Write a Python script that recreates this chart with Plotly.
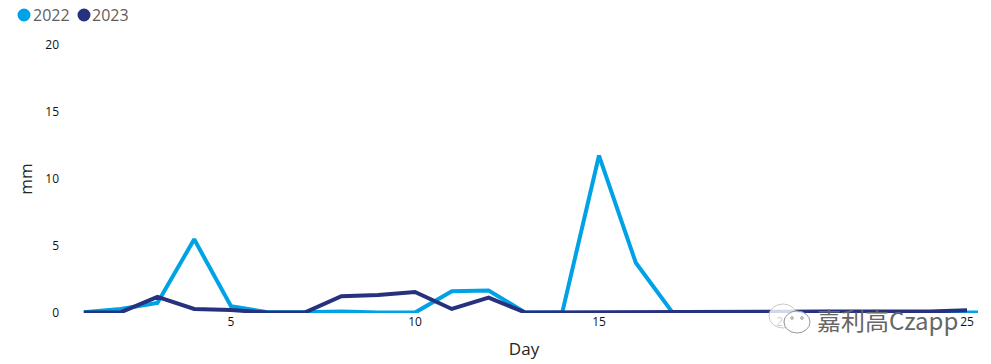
import plotly.graph_objects as go

days = list(range(1, 27))
days_2023 = list(range(1, 26))
series_names = ["2022", "2023"]
colors = ["#00A2E6", "#27327F"]
values_2022 = [0.05, 0.3, 0.75, 5.5, 0.5, 0.05, 0.05, 0.12, 0.03, 0.03, 1.62, 1.68, 0.03,
               0.03, 11.75, 3.75, 0.03, 0.03, 0.03, 0.03, 0.03, 0.03, 0.03, 0.03, 0.03, 0.03]
values_2023 = [0.03, 0.05, 1.2, 0.3, 0.22, 0.03, 0.03, 1.25, 1.35, 1.57, 0.3, 1.15, 0.03,
               0.03, 0.03, 0.03, 0.03, 0.03, 0.1, 0.1, 0.12, 0.12, 0.1, 0.12, 0.2]
x_ticks = [5, 10, 15, 20, 25]
y_ticks = [0, 5, 10, 15, 20]

W, H = 991, 364
L, R, T, B = 70, 13, 45, 51
PW, PH = W - L - R, H - T - B
FONT = "Open Sans, Noto Sans, sans-serif"

fig = go.Figure()
for name, xs, ys, c in [(series_names[0], days, values_2022, colors[0]),
                        (series_names[1], days_2023, values_2023, colors[1])]:
    fig.add_trace(go.Scatter(x=xs, y=ys, name=name, mode="lines",
                             line=dict(color=c, width=4), showlegend=False))


def pxx(v):
    return (v - L) / PW


def pyy(v):
    return (H - B - v) / PH


def circle(cx, cy, rx, ry, fill, line):
    return dict(type="circle", xref="paper", yref="paper", layer="above",
                x0=pxx(cx - rx), x1=pxx(cx + rx), y0=pyy(cy + ry), y1=pyy(cy - ry),
                fillcolor=fill, line=line)


shapes = []
annotations = []
for cx, tx, name, c in [(24, 31, series_names[0], colors[0]), (84, 90, series_names[1], colors[1])]:
    shapes.append(circle(cx, 15, 6.5, 6.5, c, dict(width=0)))
    annotations.append(dict(xref="paper", yref="paper", x=pxx(tx), y=pyy(15), text=name,
                            showarrow=False, xanchor="left", yanchor="middle",
                            font=dict(family=FONT, size=16, color="#605E5C")))

# WeChat watermark
shapes.append(circle(783, 316, 14, 12, "rgba(255,255,255,0.8)", dict(color="#C8C8C8", width=1)))
shapes.append(circle(797, 322, 13, 11, "rgba(255,255,255,0.9)", dict(color="#999999", width=1)))
for ex in (792, 802):
    shapes.append(circle(ex, 318, 1.3, 1.3, "rgba(255,255,255,0)", dict(color="#999999", width=1)))
annotations.append(dict(xref="paper", yref="paper", x=pxx(815), y=pyy(319), text="嘉利高Czapp",
                        showarrow=False, xanchor="left", yanchor="middle",
                        font=dict(family="Noto Sans CJK SC, sans-serif", size=24, color="#666666")))

fig.update_layout(
    width=W, height=H, autosize=False, showlegend=False,
    margin=dict(l=L, r=R, t=T, b=B, pad=0),
    paper_bgcolor="white", plot_bgcolor="white",
    shapes=shapes, annotations=annotations,
    font=dict(family=FONT, color="#111111"),
    xaxis=dict(range=[(70 - 231) / 36.8 + 5, (978 - 231) / 36.8 + 5], tickvals=x_ticks,
               showgrid=False, zeroline=False, showline=False, ticks="", automargin=False,
               tickfont=dict(size=12, color="#111111"),
               title=dict(text="Day", font=dict(size=17, color="#252423"), standoff=14)),
    yaxis=dict(range=[0, 20], tickvals=y_ticks, showgrid=False, zeroline=False,
               showline=False, ticks="", ticklabelstandoff=10, automargin=False,
               tickfont=dict(size=12, color="#111111"),
               title=dict(text="mm", font=dict(size=17, color="#252423"), standoff=8)),
)
fig.update_traces(cliponaxis=False)
fig.write_html("out.html", config=dict(displayModeBar=False),
               post_script="document.body.style.margin='0';")
